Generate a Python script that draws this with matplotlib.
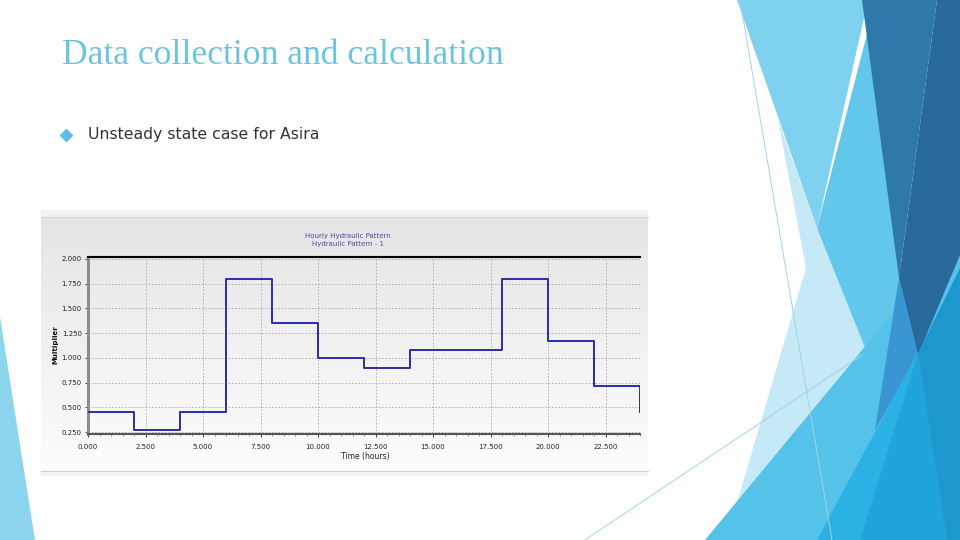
import numpy as np
import matplotlib
matplotlib.use("Agg")
import matplotlib.pyplot as plt
from matplotlib.patches import Polygon
from matplotlib.ticker import MultipleLocator, FormatStrFormatter

# hourly pattern (2 h steps, last point closes the day)
hours = [0, 2, 4, 6, 8, 10, 12, 14, 16, 18, 20, 22, 24]
multiplier = [0.45, 0.27, 0.45, 1.80, 1.35, 1.00, 0.90, 1.08, 1.08, 1.80, 1.17, 0.72, 0.45]
x_ticks = [0.0, 2.5, 5.0, 7.5, 10.0, 12.5, 15.0, 17.5, 20.0, 22.5]
y_ticks = [0.25, 0.50, 0.75, 1.00, 1.25, 1.50, 1.75, 2.00]

slide_title = "Data collection and calculation"
bullet_text = "Unsteady state case for Asira"
chart_title = "Hourly Hydraulic Pattern\nHydraulic Pattern - 1"

W, H = 960, 540
fig = plt.figure(figsize=(W / 100, H / 100), dpi=100)
fig.patch.set_facecolor("white")

# slide background / decoration, pixel coordinates
bg = fig.add_axes([0, 0, 1, 1])
bg.set_xlim(0, W)
bg.set_ylim(H, 0)
bg.axis("off")

shapes = [
    ([(0, 317), (0, 540), (35, 540)], "#8dd5ef"),
    ([(778, 120), (817, 228), (880, 330), (870, 540), (726, 540), (806, 268)], "#c6e9f7"),
    ([(737, 0), (868, 0), (817, 228)], "#7fd1f0"),
    ([(868, 30), (905, 300), (918, 355), (870, 360), (817, 228)], "#63c7ec"),
    ([(705, 540), (887, 320), (960, 232), (960, 540)], "#55c2ea"),
    ([(862, 0), (937, 0), (899, 278)], "#2e78aa"),
    ([(937, 0), (960, 0), (960, 255), (918, 355), (899, 278)], "#296a9c"),
    ([(899, 278), (918, 355), (875, 430)], "#3a96d2"),
    ([(817, 540), (918, 352), (960, 540)], "#2cb1e4"),
    ([(860, 540), (918, 353), (947, 540)], "#20a4db"),
    ([(918, 353), (960, 268), (960, 540), (947, 540)], "#1c98ce"),
]
for pts, col in shapes:
    bg.add_patch(Polygon(pts, closed=True, facecolor=col, edgecolor="none"))

bg.plot([740, 832], [0, 540], color="#9fd3e6", lw=0.7)
bg.plot([585, 862], [540, 355], color="#9fd3e6", lw=0.7)

# slide text
bg.text(62, 56, slide_title, fontsize=25.7, family="Liberation Serif",
        color="#6cc5df", va="center", ha="left")
bg.plot([66], [135], marker="D", markersize=6, color="#5bbfe6", ls="none")
bg.text(88, 134.5, bullet_text, fontsize=11.3, family="DejaVu Sans",
        color="#333333", va="center", ha="left")

# screenshot panel with grey gradient
grad = np.linspace(0, 1, 256).reshape(-1, 1)
bg.imshow(grad, cmap=matplotlib.colors.LinearSegmentedColormap.from_list(
    "g", ["#e5e5e5", "#fdfdfd"]), extent=(41, 648, 471, 217), aspect="auto", zorder=1)
bg.add_patch(Polygon([(41, 210), (648, 210), (648, 217), (41, 217)],
                     facecolor="#f2f2f2", edgecolor="none", zorder=1))
bg.add_patch(Polygon([(41, 471), (648, 471), (648, 476), (41, 476)],
                     facecolor="#f4f4f4", edgecolor="none", zorder=1))
bg.plot([41, 648], [217, 217], color="#d4d4d4", lw=0.8, zorder=2)
bg.plot([41, 648], [471, 471], color="#cfcfcf", lw=0.8, zorder=2)

bg.text(348, 240, chart_title, fontsize=5, color="#4b4ba8",
        ha="center", va="center", linespacing=1.3, zorder=3)
bg.text(55, 345, "Multiplier", fontsize=5, fontweight="bold", color="#111111",
        rotation=90, ha="center", va="center", zorder=3)
bg.text(365, 456, "Time (hours)", fontsize=5.5, color="#222222",
        ha="center", va="center", zorder=3)

# the chart itself
ax = fig.add_axes([88 / W, 1 - 434 / H, (640 - 88) / W, (434 - 256.5) / H])
ax.patch.set_alpha(0)
ax.step(hours, multiplier, where="post", color="#2c2ca8", lw=1.4, zorder=3)
ax.set_xlim(0, 24)
ax.set_ylim(0.23, 2.025)
ax.set_xticks(x_ticks)
ax.set_yticks(y_ticks)
ax.xaxis.set_minor_locator(MultipleLocator(0.5))
ax.xaxis.set_major_formatter(FormatStrFormatter("%.3f"))
ax.yaxis.set_major_formatter(FormatStrFormatter("%.3f"))
ax.tick_params(axis="both", labelsize=5, colors="#222222", length=2, width=0.6, pad=2.5)
ax.tick_params(axis="x", pad=5)
ax.tick_params(axis="x", which="minor", length=1.5, width=0.5, color="#666666")
ax.grid(True, color="#a8a8a8", lw=0.6, linestyle=(0, (2, 2)))
ax.spines["right"].set_visible(False)
ax.spines["top"].set_color("black")
ax.spines["top"].set_linewidth(1.5)
ax.spines["left"].set_color("#8c8c8c")
ax.spines["left"].set_linewidth(2.2)
ax.spines["bottom"].set_color("#555555")
ax.spines["bottom"].set_linewidth(1.5)

fig.savefig("out.png", dpi=100)
